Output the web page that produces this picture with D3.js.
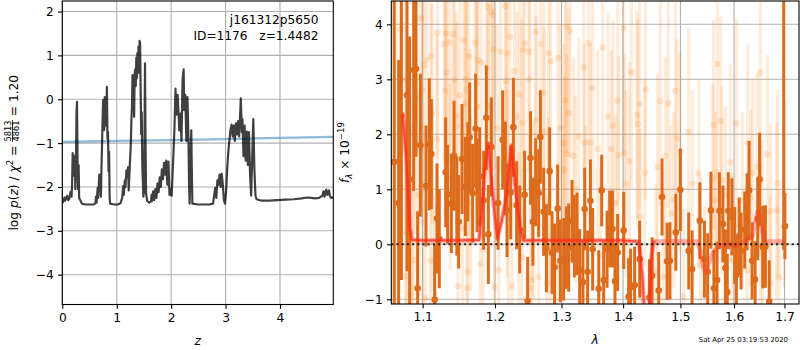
<!DOCTYPE html>
<html>
<head>
<meta charset="utf-8">
<script src="https://cdn.jsdelivr.net/npm/d3@7"></script>
<style>
  body { margin: 0; background: #fff; }
  svg { display: block; font-family: "DejaVu Sans", sans-serif; }
  text { white-space: pre; }
</style>
</head>
<body>
<svg id="fig" width="800" height="350"></svg>
<script>
// ---------------- redshift fit: log p(z) ----------------
const zGrid = [0.00,0.02,0.04,0.05,0.07,0.09,0.11,0.13,0.15,0.17,0.18,0.19,0.20,0.21,0.22,0.23,0.24,0.25,0.26,0.27,0.28,0.29,0.30,0.31,0.33,0.36,0.42,0.50,0.58,0.61,0.62,0.63,0.65,0.66,0.68,0.70,0.71,0.72,0.73,0.74,0.75,0.76,0.77,0.78,0.79,0.80,0.81,0.82,0.83,0.84,0.85,0.86,0.87,0.88,0.95,1.02,1.07,1.10,1.12,1.13,1.15,1.16,1.18,1.19,1.21,1.22,1.24,1.26,1.27,1.28,1.29,1.30,1.31,1.32,1.33,1.34,1.35,1.36,1.37,1.38,1.39,1.40,1.41,1.42,1.43,1.44,1.45,1.46,1.47,1.49,1.50,1.51,1.52,1.53,1.54,1.56,1.60,1.63,1.64,1.65,1.67,1.69,1.71,1.73,1.75,1.77,1.79,1.81,1.83,1.85,1.87,1.89,1.91,1.93,1.95,1.97,1.99,2.01,2.03,2.05,2.06,2.08,2.10,2.12,2.14,2.15,2.17,2.19,2.21,2.23,2.24,2.26,2.28,2.30,2.32,2.33,2.34,2.36,2.37,2.38,2.39,2.50,2.60,2.70,2.77,2.79,2.81,2.83,2.85,2.87,2.89,2.91,2.93,2.95,2.97,2.99,3.01,3.03,3.05,3.07,3.09,3.11,3.13,3.15,3.17,3.19,3.21,3.23,3.25,3.27,3.28,3.30,3.31,3.33,3.35,3.37,3.39,3.41,3.43,3.45,3.47,3.49,3.51,3.53,3.55,3.57,3.65,3.80,3.95,4.10,4.25,4.40,4.50,4.58,4.65,4.72,4.78,4.80,4.82,4.85,4.87,4.90,4.92,4.95,4.98];
const logPz = [-2.36,-2.33,-2.24,-2.31,-2.27,-2.20,-2.30,-2.26,-2.12,-2.22,-1.95,-1.23,-1.60,-1.28,-1.75,-1.32,-2.05,-1.62,-0.35,-0.06,-1.30,-2.05,-1.50,-2.25,-2.30,-2.38,-2.40,-2.40,-2.40,-2.37,-2.22,-2.36,-2.02,-2.25,-1.72,-1.90,-2.22,-1.55,-1.05,-0.50,-0.02,-0.45,-0.70,0.05,-0.25,-0.60,-0.30,0.28,-0.90,-0.75,-1.65,-1.20,-2.25,-2.38,-2.40,-2.40,-2.37,-2.25,-1.98,-2.18,-1.85,-2.00,-1.62,-1.78,-1.55,-2.08,-1.52,-1.00,-0.45,-0.18,0.55,0.18,0.50,-0.40,0.60,0.68,0.30,0.95,0.48,1.05,0.80,1.20,0.60,1.33,1.28,0.20,-0.80,-0.30,-1.50,-2.22,-2.12,-1.00,0.82,-1.05,-2.15,-2.32,-2.36,-2.33,-2.18,-2.32,-2.10,-2.30,-2.05,-2.25,-1.92,-2.12,-1.78,-2.00,-1.60,-1.82,-1.45,-1.72,-1.40,-1.95,-1.42,-2.18,-2.05,-2.20,-1.60,-1.00,-0.70,0.24,-0.35,0.10,-0.40,-0.71,-0.33,-0.95,0.45,0.68,-0.25,0.10,-0.95,0.05,-1.01,-2.00,-2.38,-1.20,-0.71,-1.60,-2.38,-2.40,-2.40,-2.40,-2.38,-2.20,-2.02,-2.25,-1.85,-1.95,-1.72,-2.00,-1.70,-1.95,-2.30,-2.38,-2.10,-1.60,-1.20,-0.95,-0.70,-0.58,-0.85,-0.60,-0.95,-0.55,-0.80,-0.50,-0.85,-0.30,0.02,-0.75,-0.45,-1.30,-0.60,-1.40,-0.74,-1.50,-0.75,-1.70,-2.20,-1.30,-0.45,-1.60,-2.20,-2.28,-2.31,-2.31,-2.30,-2.29,-2.28,-2.26,-2.24,-2.25,-2.26,-2.25,-2.20,-2.10,-2.22,-2.06,-2.18,-2.08,-2.22,-2.25,-2.24];
// prior curve
const priorZ = [0, 1, 2, 3, 4, 4.98];
const priorLogP = [-0.97, -0.95, -0.93, -0.91, -0.88, -0.86];

// ---------------- 1D spectrum (binned) ----------------
const specWave = [1.0630,1.0687,1.0722,1.0795,1.0829,1.0882,1.0913,1.0934,1.0970,1.1045,1.1089,1.1116,1.1160,1.1192,1.1223,1.1309,1.1336,1.1387,1.1424,1.1462,1.1487,1.1534,1.1580,1.1615,1.1640,1.1682,1.1724,1.1744,1.1781,1.1838,1.1876,1.1905,1.1948,1.2045,1.2112,1.2151,1.2176,1.2229,1.2269,1.2317,1.2362,1.2436,1.2481,1.2525,1.2560,1.2602,1.2648,1.2674,1.2724,1.2766,1.2816,1.2853,1.2892,1.2940,1.2982,1.3034,1.3076,1.3113,1.3166,1.3203,1.3246,1.3287,1.3339,1.3368,1.3416,1.3460,1.3497,1.3595,1.3644,1.3677,1.3733,1.3776,1.3821,1.3864,1.3909,1.4010,1.4094,1.4128,1.4196,1.4282,1.4450,1.4497,1.4613,1.4672,1.4761,1.4811,1.4918,1.4999,1.5150,1.5212,1.5355,1.5439,1.5500,1.5560,1.5616,1.5676,1.5720,1.5786,1.5834,1.5870,1.5890,1.5958,1.6012,1.6045,1.6099,1.6136,1.6206,1.6253,1.6292,1.6351,1.6410,1.6462,1.6499,1.6561,1.6615,1.6691,1.6985,1.7009];
const specFlux = [1.50,0.75,2.35,2.71,1.18,3.17,3.19,-0.80,1.80,1.06,1.82,1.64,-1.01,0.47,0.10,1.31,0.91,0.74,1.61,0.69,0.41,1.55,1.05,1.32,1.94,0.93,2.10,1.07,1.23,0.80,2.30,0.18,1.77,0.75,1.90,1.38,0.62,0.94,2.13,0.71,0.27,0.90,-1.03,1.57,0.41,1.13,0.93,1.95,0.59,-0.07,1.33,-0.15,-0.42,0.65,-0.30,-0.27,-0.06,-0.06,0.42,0.15,0.19,-0.47,-0.69,0.64,-0.50,0.79,-0.09,-0.81,0.98,-0.65,-0.09,0.28,0.28,-0.67,-0.15,0.25,-0.95,-0.78,-0.74,-0.27,-0.97,-0.57,-0.84,0.86,-0.31,-0.30,0.22,0.99,-0.12,-0.45,0.43,-0.27,-0.50,0.62,-0.80,-0.65,0.61,0.37,-0.43,-0.87,0.61,0.50,-0.02,-0.56,0.15,-0.12,0.26,0.59,0.98,-0.30,-0.64,0.46,1.18,-0.05,-0.04,-1.04,5.00,0.33];
const specErr = [4.0,2.6,3.0,3.2,2.6,2.2,1.6,1.4,1.3,1.1,1.2,1.0,1.0,1.0,0.9,1.0,0.9,0.9,1.0,0.9,0.85,1.0,0.9,0.9,1.0,0.9,1.0,0.85,0.9,0.9,0.95,0.9,0.9,0.85,0.9,0.85,0.85,0.85,0.9,0.8,0.8,0.8,0.8,0.85,0.8,0.8,0.8,0.85,0.8,0.8,0.8,0.75,0.8,0.8,0.75,0.75,0.75,0.8,0.75,0.75,0.75,0.75,0.75,0.75,0.75,0.75,0.75,0.7,0.65,0.7,0.7,0.7,0.7,0.7,0.7,0.7,0.7,0.7,0.7,0.7,0.7,0.7,0.7,0.7,0.7,0.7,0.7,0.75,0.7,0.7,0.7,0.7,0.7,0.7,0.7,0.7,0.7,0.7,0.7,0.7,0.7,0.7,0.7,0.7,0.7,0.7,0.7,0.7,0.9,0.7,0.7,0.75,0.85,0.75,0.75,0.75,5.1,0.6];

// ---------------- individual pixels ----------------
const pixWave = [1.0656,1.0710,1.0773,1.0780,1.0790,1.0840,1.0860,1.0882,1.0904,1.0943,1.0979,1.0992,1.1000,1.1022,1.1035,1.1058,1.1102,1.1112,1.1125,1.1130,1.1168,1.1192,1.1199,1.1289,1.1302,1.1314,1.1323,1.1360,1.1373,1.1412,1.1425,1.1451,1.1461,1.1477,1.1503,1.1540,1.1555,1.1580,1.1592,1.1600,1.1605,1.1612,1.1628,1.1648,1.1655,1.1720,1.1735,1.1744,1.1757,1.1790,1.1804,1.1830,1.1876,1.1900,1.1909,1.1948,1.1967,1.1981,1.1990,1.2031,1.2054,1.2078,1.2151,1.2161,1.2176,1.2181,1.2195,1.2219,1.2248,1.2284,1.2322,1.2352,1.2360,1.2393,1.2400,1.2412,1.2437,1.2500,1.2510,1.2520,1.2548,1.2572,1.2600,1.2612,1.2648,1.2676,1.2724,1.2730,1.2775,1.2790,1.2800,1.2826,1.2831,1.2931,1.2944,1.2982,1.3020,1.3034,1.3045,1.3060,1.3076,1.3085,1.3113,1.3134,1.3190,1.3220,1.3271,1.3352,1.3368,1.3380,1.3432,1.3460,1.3497,1.3578,1.3620,1.3659,1.3749,1.3803,1.3830,1.3870,1.3909,1.3926,1.4010,1.4020,1.4050,1.4106,1.4140,1.4237,1.4248,1.4282,1.4290,1.4370,1.4384,1.4560,1.4593,1.4641,1.4695,1.4736,1.4781,1.4827,1.4882,1.4910,1.4940,1.4999,1.5055,1.5150,1.5220,1.5334,1.5364,1.5450,1.5590,1.5612,1.5650,1.5660,1.5684,1.5745,1.5765,1.5834,1.5930,1.5966,1.6050,1.6160,1.6253,1.6265,1.6322,1.6360,1.6450,1.6514,1.6520,1.6555,1.6655,1.6710,1.6720,1.6837,1.6867,1.6890,1.7000];
const pixFlux = [1.50,3.90,2.99,-0.58,0.20,-0.90,0.23,-0.29,2.68,0.90,4.11,2.81,0.41,3.26,-0.98,3.35,-0.30,3.42,2.37,0.84,-0.94,1.91,3.85,3.64,2.79,3.84,3.13,3.67,1.22,3.82,2.99,2.33,2.14,-0.76,2.71,0.29,3.71,2.56,3.01,2.81,-0.80,-0.50,3.42,1.75,0.75,3.67,2.93,2.50,3.35,-0.35,3.31,-0.10,3.21,2.51,4.32,4.23,4.17,3.55,-0.78,2.11,-0.47,3.50,4.33,2.97,1.11,3.47,-0.01,3.77,-0.76,3.15,2.32,0.08,2.73,2.20,-0.24,3.53,3.65,3.50,3.00,-0.80,-0.65,0.62,3.87,2.26,-0.59,3.64,2.76,2.05,-0.71,0.71,3.47,-0.16,3.33,-0.38,3.39,2.11,0.41,1.84,1.35,2.62,3.96,1.64,2.39,3.88,1.61,1.00,1.96,3.22,1.85,0.55,3.65,1.85,2.84,1.73,-0.20,3.58,2.32,1.73,2.16,0.75,2.61,1.62,3.93,1.65,1.10,1.51,3.13,2.35,2.19,2.55,0.50,1.30,2.82,-0.50,1.41,2.61,-0.59,1.61,2.56,0.56,0.81,2.79,1.93,1.68,-0.95,2.04,1.10,1.29,-0.38,-0.90,1.20,2.17,0.81,-0.23,3.28,2.24,1.17,0.90,1.49,-0.30,2.20,0.80,-0.47,1.84,0.84,1.30,1.41,3.12,-0.16,0.30,1.64,-0.71,0.60,0.62,1.11,-0.60,0.93];
const pixErr = [3.2,3.0,2.8,2.3,2.4,2.2,2.0,2.1,2.4,1.9,2.4,2.2,1.8,2.3,1.8,2.2,1.7,2.2,2.0,1.7,1.7,1.9,2.3,2.2,2.0,2.3,2.1,2.2,1.7,2.3,2.0,1.9,1.9,1.6,2.0,1.6,2.2,1.9,2.0,2.0,1.6,1.6,2.1,1.8,1.6,2.2,2.0,1.9,2.1,1.6,2.1,1.6,2.1,1.9,2.4,2.4,2.4,2.2,1.6,1.9,1.6,2.2,2.4,2.0,1.7,2.2,1.6,2.3,1.6,2.1,1.9,1.6,2.0,1.9,1.6,2.2,2.2,2.2,2.0,1.6,1.6,1.6,2.3,1.9,1.6,2.2,2.0,1.9,1.6,1.6,2.2,1.6,2.1,1.6,2.1,1.9,1.6,1.8,1.7,1.9,2.3,1.8,1.9,2.3,1.8,1.7,1.8,2.1,1.8,1.6,2.2,1.8,2.0,1.8,1.6,2.2,1.9,1.8,1.9,1.6,1.9,1.8,2.3,1.8,1.7,1.8,2.1,1.9,1.9,1.9,1.6,1.7,2.0,1.6,1.7,1.9,1.6,1.8,1.9,1.6,1.6,2.0,1.8,1.8,1.6,1.9,1.7,1.7,1.6,1.6,1.7,1.9,1.6,1.6,2.1,1.9,1.7,1.6,1.8,1.6,1.9,1.6,1.6,1.8,1.6,1.7,1.7,2.1,1.6,1.6,1.8,1.6,1.6,1.6,1.7,1.6,1.7];

// ---------------- best-fit model ----------------
const modelWaveBlue = [1.0740,1.0790,1.0830,1.0860,1.1000,1.1500,1.1775,1.1850,1.1905,1.1960,1.2035,1.2100,1.2170,1.2240,1.2300,1.2370,1.2420,1.3000,1.3500,1.4000,1.4270,1.4330,1.4380,1.4440,1.4490,1.4520,1.4560];
const modelFluxBlue = [2.35,1.50,0.30,0.08,0.07,0.07,0.08,1.30,1.84,1.00,0.10,0.44,0.90,1.80,1.00,0.30,0.07,0.07,0.07,0.07,0.05,-0.60,-1.60,-1.40,-0.20,0.05,0.05];
const modelWaveRed = [1.0740,1.0790,1.0830,1.0860,1.1000,1.1500,1.1775,1.1850,1.1905,1.1960,1.2035,1.2100,1.2170,1.2240,1.2300,1.2370,1.2420,1.3000,1.3500,1.4000,1.4270,1.4330,1.4380,1.4440,1.4490,1.4520,1.5000,1.5300,1.5360,1.5430,1.5460,1.5520,1.5600,1.5700,1.5900,1.6050,1.6200,1.6360,1.6420,1.6460,1.6500,1.6560,1.6610,1.7000];
const modelFluxRed = [2.35,1.50,0.30,0.08,0.07,0.07,0.08,1.30,1.84,1.00,0.10,0.44,0.90,1.80,1.00,0.30,0.07,0.07,0.07,0.07,0.05,-0.60,-1.60,-1.40,-0.20,0.05,0.05,0.05,-0.10,-0.45,-0.53,-0.35,-0.15,-0.03,0.00,-0.03,0.05,0.15,0.45,0.60,0.50,0.20,0.05,0.05];

// ---------------- ticks ----------------
const zTicks = [0, 1, 2, 3, 4];
const pzTicks = [-4, -3, -2, -1, 0, 1, 2];
const waveTicks = [1.1, 1.2, 1.3, 1.4, 1.5, 1.6, 1.7];
const fluxTicks = [-1, 0, 1, 2, 3, 4];

const FS = 12.2;
const GRID = "#b0b0b0";
const ORANGE = "#ff7f0e";
const ORANGE_DARK = "#dc6c1c";

const svg = d3.select("#fig");
const defs = svg.append("defs");

function frame(g, box) {
  g.append("rect")
    .attr("x", box.x0).attr("y", box.y0)
    .attr("width", box.x1 - box.x0).attr("height", box.y1 - box.y0)
    .attr("fill", "none").attr("stroke", "#000").attr("stroke-width", 1.1);
}
function clip(id, box) {
  defs.append("clipPath").attr("id", id).append("rect")
    .attr("x", box.x0).attr("y", box.y0)
    .attr("width", box.x1 - box.x0).attr("height", box.y1 - box.y0);
  return "url(#" + id + ")";
}
function styleAxis(g) {
  g.select(".domain").remove();
  g.selectAll(".tick line").attr("stroke", "#000").attr("stroke-width", 1.1);
  g.selectAll(".tick text").attr("font-size", FS).attr("fill", "#000")
    .attr("font-family", "DejaVu Sans, sans-serif");
}

// ================= left panel =================
const L = { x0: 62.3, x1: 333.3, y0: 1, y1: 304.5 };
const xz = d3.scaleLinear().domain([0, 4.98]).range([L.x0, L.x1]);
const yp = d3.scaleLinear().domain([-4.68, 2.24]).range([L.y1, L.y0]);
const gL = svg.append("g");

gL.append("g").selectAll("line").data(zTicks).join("line")
  .attr("x1", d => xz(d)).attr("x2", d => xz(d)).attr("y1", L.y0).attr("y2", L.y1)
  .attr("stroke", GRID).attr("stroke-width", 1.1);
gL.append("g").selectAll("line").data(pzTicks).join("line")
  .attr("y1", d => yp(d)).attr("y2", d => yp(d)).attr("x1", L.x0).attr("x2", L.x1)
  .attr("stroke", GRID).attr("stroke-width", 1.1);

const clipL = clip("clipL", L);
const pzLine = d3.line().x(d => xz(d[0])).y(d => yp(d[1]));
gL.append("path").attr("clip-path", clipL)
  .attr("d", pzLine(d3.zip(priorZ, priorLogP)))
  .attr("fill", "none").attr("stroke", "#1f77b4").attr("stroke-opacity", 0.5)
  .attr("stroke-width", 2.2);
gL.append("path").attr("clip-path", clipL)
  .attr("d", pzLine(d3.zip(zGrid, logPz)))
  .attr("fill", "none").attr("stroke", "#000").attr("stroke-opacity", 0.75)
  .attr("stroke-width", 2.2).attr("stroke-linejoin", "round");

gL.append("g").attr("transform", `translate(0,${L.y1})`)
  .call(d3.axisBottom(xz).tickValues(zTicks).tickFormat(d3.format("d")).tickSize(4.3).tickPadding(4.3))
  .call(styleAxis);
gL.append("g").attr("transform", `translate(${L.x0},0)`)
  .call(d3.axisLeft(yp).tickValues(pzTicks).tickFormat(d3.format("d")).tickSize(4.3).tickPadding(4.3))
  .call(styleAxis);
frame(gL, L);

gL.append("text").attr("x", 318.5).attr("y", 24).attr("text-anchor", "end")
  .attr("font-size", FS).text("j161312p5650");
gL.append("text").attr("x", 318.5).attr("y", 39.5).attr("text-anchor", "end")
  .attr("font-size", FS).text("ID=1176   z=1.4482");

gL.append("text").attr("x", (L.x0 + L.x1) / 2).attr("y", 345)
  .attr("text-anchor", "middle").attr("font-size", FS).attr("font-style", "italic").text("z");

// y label: log p(z) / chi^2 = N/M = 1.20
(function () {
  const g = gL.append("g").attr("transform", "translate(17.5,152.75) rotate(-90)");
  const inner = g.append("g");
  const t1 = inner.append("text").attr("font-size", FS);
  t1.append("tspan").text("log ");
  t1.append("tspan").attr("font-style", "italic").text("p");
  t1.append("tspan").text("(");
  t1.append("tspan").attr("font-style", "italic").text("z");
  t1.append("tspan").text(") / ");
  t1.append("tspan").attr("font-style", "italic").text("χ");
  t1.append("tspan").attr("font-size", 8.6).attr("dy", -5).text("2");
  t1.append("tspan").attr("dy", 5).text(" = ");
  const w1 = t1.node().getComputedTextLength();
  const fs = 8.2;
  const num = inner.append("text").attr("font-size", fs).attr("text-anchor", "middle").text("5813");
  const den = inner.append("text").attr("font-size", fs).attr("text-anchor", "middle").text("4861");
  const fw = Math.max(num.node().getComputedTextLength(), den.node().getComputedTextLength()) + 1;
  const cx = w1 + fw / 2;
  num.attr("x", cx).attr("y", -6.6);
  den.attr("x", cx).attr("y", 1.2);
  inner.append("line").attr("x1", w1).attr("x2", w1 + fw).attr("y1", -5.0).attr("y2", -5.0)
    .attr("stroke", "#000").attr("stroke-width", 0.8);
  const t3 = inner.append("text").attr("font-size", FS).attr("x", w1 + fw).text(" = 1.20");
  const total = w1 + fw + t3.node().getComputedTextLength();
  inner.attr("transform", `translate(${-total / 2},0)`);
})();

// ================= right panel =================
const R = { x0: 391.3, x1: 799, y0: 1, y1: 304 };
const xw = d3.scaleLog().domain([1.0593, 1.730]).range([R.x0, R.x1]);
const yf = d3.scaleLinear().domain([-1.085, 4.424]).range([R.y1, R.y0]);
const gR = svg.append("g");

gR.append("g").selectAll("line").data(waveTicks).join("line")
  .attr("x1", d => xw(d)).attr("x2", d => xw(d)).attr("y1", R.y0).attr("y2", R.y1)
  .attr("stroke", GRID).attr("stroke-width", 1.1);
gR.append("g").selectAll("line").data(fluxTicks).join("line")
  .attr("y1", d => yf(d)).attr("y2", d => yf(d)).attr("x1", R.x0).attr("x2", R.x1)
  .attr("stroke", GRID).attr("stroke-width", 1.1);

const clipR = clip("clipR", R);
const data = svg.append("g").attr("clip-path", clipR);

// individual pixels (faint)
const pix = d3.range(pixWave.length).map(i => ({ w: pixWave[i], f: pixFlux[i], e: pixErr[i] }));
const gPix = data.append("g");
gPix.selectAll("line").data(pix).join("line")
  .attr("x1", d => xw(d.w)).attr("x2", d => xw(d.w))
  .attr("y1", d => yf(d.f - d.e)).attr("y2", d => yf(d.f + d.e))
  .attr("stroke", ORANGE).attr("stroke-opacity", 0.15).attr("stroke-width", 3.2);
gPix.selectAll("circle").data(pix).join("circle")
  .attr("cx", d => xw(d.w)).attr("cy", d => yf(d.f)).attr("r", 3.2)
  .attr("fill", ORANGE).attr("fill-opacity", 0.17);

// binned spectrum
const spec = d3.range(specWave.length).map(i => ({ w: specWave[i], f: specFlux[i], e: specErr[i] }));
const gSpec = data.append("g");
gSpec.selectAll("line").data(spec).join("line")
  .attr("x1", d => xw(d.w)).attr("x2", d => xw(d.w))
  .attr("y1", d => yf(d.f - d.e)).attr("y2", d => yf(d.f + d.e))
  .attr("stroke", ORANGE_DARK).attr("stroke-width", 3);
gSpec.selectAll("circle").data(spec).join("circle")
  .attr("cx", d => xw(d.w)).attr("cy", d => yf(d.f)).attr("r", 3.3)
  .attr("fill", ORANGE_DARK);

// model
const mLine = d3.line().x(d => xw(d[0])).y(d => yf(d[1]));
data.append("path").attr("d", mLine(d3.zip(modelWaveRed, modelFluxRed)))
  .attr("fill", "none").attr("stroke", "#ff3a2a").attr("stroke-opacity", 0.4)
  .attr("stroke-width", 4.5).attr("stroke-linejoin", "round");
data.append("path").attr("d", mLine(d3.zip(modelWaveBlue, modelFluxBlue)))
  .attr("fill", "none").attr("stroke", "#ff2a1a").attr("stroke-opacity", 0.7)
  .attr("stroke-width", 2.2).attr("stroke-linejoin", "round");

// zero level
data.append("line").attr("x1", R.x0).attr("x2", R.x1).attr("y1", yf(0)).attr("y2", yf(0))
  .attr("stroke", "#000").attr("stroke-width", 2).attr("stroke-dasharray", "2,3.2")
  .attr("stroke-opacity", 0.85);

gR.append("g").attr("transform", `translate(0,${R.y1})`)
  .call(d3.axisBottom(xw).tickValues(waveTicks).tickFormat(d3.format(".1f")).tickSize(4.3).tickPadding(4.3))
  .call(styleAxis);
gR.append("g").attr("transform", `translate(${R.x0},0)`)
  .call(d3.axisLeft(yf).tickValues(fluxTicks).tickFormat(d3.format("d")).tickSize(4.3).tickPadding(4.3))
  .call(styleAxis);
frame(svg, R);

svg.append("text").attr("x", 595).attr("y", 344).attr("text-anchor", "middle")
  .attr("font-size", FS).attr("font-style", "italic").text("λ");

(function () {
  const g = svg.append("g").attr("transform", "translate(349,152.5) rotate(-90)");
  const t = g.append("text").attr("font-size", FS).attr("text-anchor", "middle");
  t.append("tspan").attr("font-style", "italic").text("f");
  t.append("tspan").attr("font-style", "italic").attr("font-size", 8.6).attr("dy", 2.5).text("λ");
  t.append("tspan").attr("dy", -2.5).text(" × 10");
  t.append("tspan").attr("font-size", 8.6).attr("dy", -5).text("−19");
})();

svg.append("text").attr("x", 788).attr("y", 342).attr("text-anchor", "end")
  .attr("font-size", 6.9).text("Sat Apr 25 03:19:53 2020");
</script>
</body>
</html>
